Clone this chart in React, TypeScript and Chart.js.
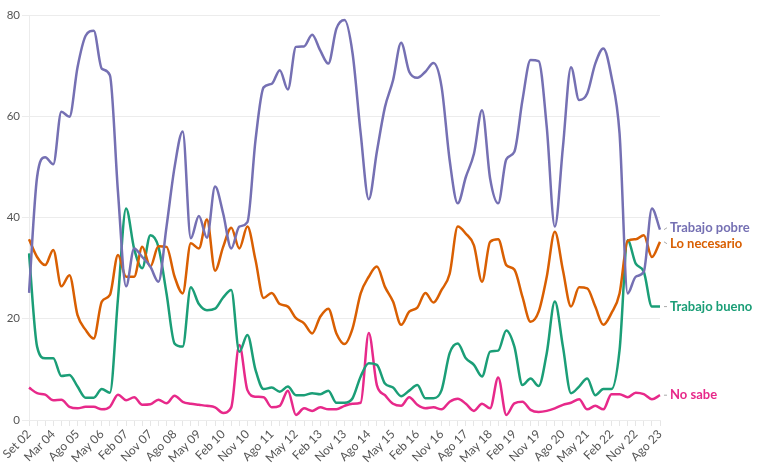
import React, { useEffect, useRef } from 'react';
import { Chart, registerables } from 'chart.js';

Chart.register(...registerables);

// one label every third survey
const tickLabels = [
  'Set 02', 'Mar 04', 'Ago 05', 'May 06', 'Feb 07', 'Nov 07', 'Ago 08', 'May 09', 'Feb 10',
  'Nov 10', 'Ago 11', 'May 12', 'Feb 13', 'Nov 13', 'Ago 14', 'May 15', 'Feb 16', 'Nov 16',
  'Ago 17', 'May 18', 'Feb 19', 'Nov 19', 'Ago 20', 'May 21', 'Feb 22', 'Nov 22', 'Ago 23',
];

const trabajoPobre = [
  25.1, 48.0, 51.9, 50.5, 60.9, 59.9, 69.7, 75.9, 76.9, 69.4, 68.1, 45.0, 26.4, 33.9, 32.2, 30.3,
  27.3, 38.2, 50.0, 57.0, 35.9, 40.3, 36.0, 46.1, 40.8, 33.9, 38.2, 39.1, 55.3, 65.7, 66.4, 69.1,
  65.3, 73.7, 73.8, 76.1, 73.0, 70.4, 77.3, 79.0, 72.4, 56.6, 43.6, 53.0, 61.8, 67.1, 74.5, 68.8,
  67.6, 68.8, 70.5, 65.8, 51.3, 42.8, 48.0, 52.6, 61.2, 47.7, 42.8, 51.5, 53.0, 63.2, 71.1, 70.9,
  57.9, 38.2, 53.9, 69.7, 63.2, 64.5, 70.4, 73.4, 67.8, 56.6, 25.0, 28.3, 29.3, 41.8, 37.6,
];

const loNecesario = [
  35.7, 32.2, 30.6, 33.6, 26.4, 28.6, 20.7, 17.8, 16.1, 23.4, 24.7, 32.6, 28.3, 28.3, 34.2, 30.3,
  34.3, 34.2, 28.3, 25.0, 34.9, 33.9, 39.6, 29.5, 34.2, 38.0, 33.9, 38.2, 31.6, 24.1, 25.1, 22.9,
  22.4, 20.1, 19.1, 17.1, 20.4, 22.0, 17.1, 15.0, 18.1, 25.0, 28.3, 30.3, 26.3, 23.4, 18.8, 21.4,
  22.2, 25.1, 23.2, 25.7, 28.9, 38.2, 36.8, 34.5, 27.3, 35.2, 35.7, 30.6, 29.7, 24.3, 19.4, 21.4,
  28.3, 37.2, 29.6, 22.4, 26.2, 26.0, 22.4, 18.8, 21.1, 25.0, 35.4, 35.7, 36.5, 32.2, 35.2,
];

const trabajoBueno = [
  32.9, 14.5, 12.2, 12.2, 8.7, 8.9, 6.6, 4.4, 4.4, 6.1, 5.4, 24.0, 41.8, 33.8, 30.0, 36.5,
  34.2, 25.0, 15.1, 14.5, 26.2, 22.9, 21.7, 22.0, 24.2, 25.7, 13.5, 16.8, 9.9, 6.1, 6.4, 5.6,
  6.6, 4.9, 4.9, 5.3, 5.1, 5.8, 3.4, 3.4, 4.3, 8.6, 11.2, 10.9, 7.2, 6.4, 4.7, 5.8,
  6.9, 4.3, 4.3, 5.9, 13.2, 15.1, 12.2, 10.9, 8.6, 13.5, 13.7, 17.7, 14.5, 6.9, 8.2, 6.7,
  13.2, 23.4, 14.5, 5.3, 6.6, 8.2, 4.9, 6.1, 6.1, 13.8, 35.5, 30.9, 29.3, 22.4, 22.4,
];

const noSabe = [
  6.4, 5.3, 5.0, 3.9, 4.0, 2.6, 2.3, 2.6, 2.6, 2.1, 2.6, 5.0, 3.9, 4.5, 3.0, 3.1,
  4.0, 3.3, 4.8, 3.6, 3.2, 3.0, 2.8, 2.5, 1.4, 2.5, 14.8, 5.9, 4.6, 4.5, 2.5, 2.8,
  5.8, 1.0, 2.3, 1.8, 2.5, 2.1, 2.1, 2.8, 3.2, 3.4, 17.2, 6.9, 4.9, 3.2, 2.8, 4.5,
  3.0, 2.3, 2.5, 2.1, 3.6, 4.2, 3.2, 1.8, 3.2, 2.3, 8.4, 1.0, 3.3, 3.6, 2.0, 1.6,
  1.8, 2.3, 3.0, 3.4, 4.1, 2.1, 2.8, 2.1, 5.1, 5.1, 4.5, 5.4, 5.1, 4.1, 4.9,
];

const seriesNames = ['Trabajo pobre', 'Lo necesario', 'Trabajo bueno', 'No sabe'];
const seriesColors = ['#7570b3', '#d95f02', '#1b9e77', '#e7298a'];

const categories = trabajoPobre.map((_, i) => (i % 3 === 0 ? tickLabels[i / 3] : ''));

const FONT = 'Lato, "Open Sans", sans-serif';

// labels at the right end of each line, pushed apart when they collide
const endLabels = {
  id: 'endLabels',
  afterDatasetsDraw(chart: any) {
    const { ctx, chartArea } = chart;
    const items = chart.data.datasets.map((ds: any, i: number) => {
      const meta = chart.getDatasetMeta(i);
      const pt = meta.data[meta.data.length - 1];
      return { name: ds.label, color: ds.borderColor, y0: pt.y, y: pt.y };
    });
    const sorted = [...items].sort((a, b) => a.y0 - b.y0);
    const gap = 16;
    for (let k = 0; k < 20; k++) {
      for (let j = 1; j < sorted.length; j++) {
        const d = sorted[j].y - sorted[j - 1].y;
        if (d < gap) {
          const push = (gap - d) / 2;
          sorted[j - 1].y -= push;
          sorted[j].y += push;
        }
      }
    }
    ctx.save();
    items.forEach((it: any) => {
      const x0 = chartArea.right + 4;
      ctx.strokeStyle = '#aaa';
      ctx.lineWidth = 1;
      ctx.beginPath();
      ctx.moveTo(x0, it.y0);
      ctx.lineTo(x0 + 3, it.y);
      ctx.stroke();
      ctx.fillStyle = it.color;
      ctx.font = `bold 13px ${FONT}`;
      ctx.textBaseline = 'middle';
      ctx.textAlign = 'left';
      ctx.fillText(it.name, chartArea.right + 10, it.y);
    });
    ctx.restore();
  },
};

const App: React.FC = () => {
  const chartRef = useRef<HTMLCanvasElement>(null);

  useEffect(() => {
    if (!chartRef.current) return;
    const ctx = chartRef.current.getContext('2d');
    if (!ctx) return;
    const values = [trabajoPobre, loNecesario, trabajoBueno, noSabe];
    const chart = new Chart(ctx, {
      type: 'line',
      data: {
        labels: categories,
        datasets: values.map((v, i) => ({
          label: seriesNames[i],
          data: v,
          borderColor: seriesColors[i],
          backgroundColor: seriesColors[i],
          borderWidth: 2.5,
          pointRadius: 0,
          cubicInterpolationMode: 'monotone' as const,
        })),
      },
      options: {
        responsive: false,
        animation: false,
        layout: { padding: { top: 15, right: 101, left: 0, bottom: 0 } },
        plugins: { legend: { display: false }, tooltip: { enabled: false } },
        scales: {
          x: {
            offset: false,
            grid: { drawOnChartArea: false, drawTicks: true, tickLength: 6, color: '#e6e6e6' },
            border: { color: '#ececec' },
            ticks: {
              autoSkip: false,
              maxRotation: 45,
              minRotation: 45,
              padding: 1,
              color: '#555',
              font: { family: FONT, size: 12 },
            },
            afterFit: (s: any) => { s.height = 47; },
          },
          y: {
            min: 0,
            max: 80,
            grid: { color: '#ececec', tickLength: 7 },
            border: { color: '#ececec' },
            ticks: {
              stepSize: 20,
              padding: 2,
              color: '#555',
              font: { family: FONT, size: 11.5 },
            },
            afterFit: (s: any) => { s.width = 29; },
          },
        },
      },
      plugins: [endLabels],
    });
    return () => {
      chart.destroy();
    };
  }, []);

  return (
    <div style={{ position: 'absolute', left: 0, top: 0, width: 761, height: 467, background: '#fff' }}>
      <canvas ref={chartRef} width="761" height="467"></canvas>
    </div>
  );
};

export default App;
